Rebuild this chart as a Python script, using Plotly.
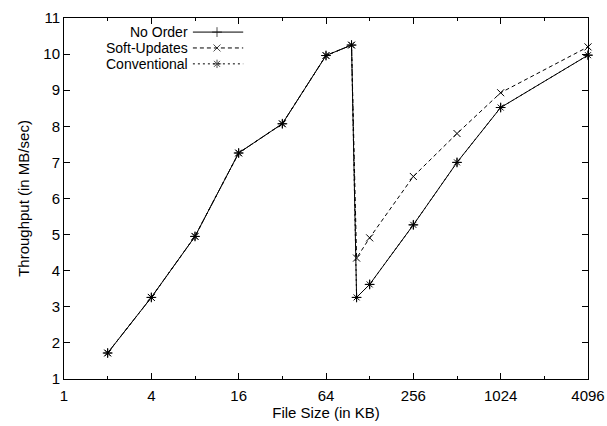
import math
import plotly.graph_objects as go

# ---- data ----
file_sizes = [2, 4, 8, 16, 32, 64, 96, 104, 128, 256, 512, 1024, 4096]
no_order = [1.72, 3.26, 4.95, 7.26, 8.07, 9.96, 10.25, 3.26, 3.62, 5.27, 7.00, 8.52, 9.97]
soft_updates = [1.72, 3.26, 4.95, 7.26, 8.07, 9.96, 10.25, 4.35, 4.91, 6.61, 7.80, 8.93, 10.20]
conventional = [1.72, 3.26, 4.95, 7.26, 8.07, 9.96, 10.25, 3.26, 3.62, 5.27, 7.00, 8.52, 9.97]

x_major = [1, 4, 16, 64, 256, 1024, 4096]
x_major_labels = ["1", "4", "16", "64", "256", "1024", "4096"]
x_minor = [2, 8, 32, 128, 512, 2048]
y_ticks = list(range(1, 12))

series_names = ["No Order", "Soft-Updates", "Conventional"]
FONT = "Liberation Sans, Arial, Helvetica, sans-serif"
FS = 15
LEG_FS = 14

styles = {
    "No Order": dict(dash="solid", symbol="cross-thin"),
    "Soft-Updates": dict(dash="4px,3px", symbol="x-thin"),
    "Conventional": dict(dash="2px,3px", symbol="asterisk"),
}
values = {"No Order": no_order, "Soft-Updates": soft_updates, "Conventional": conventional}

fig = go.Figure()
for name in series_names:
    st = styles[name]
    fig.add_trace(go.Scatter(
        x=file_sizes, y=values[name], mode="lines+markers", name=name,
        line=dict(color="black", width=1, dash=st["dash"]),
        marker=dict(symbol=st["symbol"], size=7, color="black",
                    line=dict(color="black", width=1)),
        showlegend=False, cliponaxis=False,
    ))

# ---- gnuplot-style legend (text right-aligned, sample on the right) ----
leg_y = [0.961, 0.917, 0.873]
text_x = 0.239
line_x0, line_mid, line_x1 = 0.246, 0.292, 0.342
for name, yy in zip(series_names, leg_y):
    st = styles[name]
    fig.add_annotation(x=text_x, y=yy, xref="paper", yref="paper", text=name,
                       showarrow=False, xanchor="right", yanchor="middle",
                       borderpad=0,
                       font=dict(family=FONT, size=LEG_FS, color="black"))
    fig.add_trace(go.Scatter(
        x=[line_x0, line_mid, line_x1], y=[yy, yy, yy],
        xaxis="x2", yaxis="y2", mode="lines+markers",
        line=dict(color="black", width=1, dash=st["dash"]),
        marker=dict(symbol=st["symbol"], size=[0, 7, 0], color="black",
                    line=dict(color="black", width=1)),
        showlegend=False, hoverinfo="skip", cliponaxis=False,
    ))

axis_common = dict(
    showline=True, linecolor="black", linewidth=1, mirror="ticks",
    ticks="inside", ticklen=6, tickcolor="black", tickwidth=1,
    showgrid=False, zeroline=False, automargin=False,
    tickfont=dict(family=FONT, size=FS, color="black"),
)

fig.update_layout(
    width=607, height=426,
    margin=dict(l=64, r=19, t=18, b=47),
    paper_bgcolor="white", plot_bgcolor="white",
    font=dict(family=FONT, size=FS, color="black"),
    xaxis=dict(
        type="log", range=[0, math.log10(4096)],
        tickmode="array", tickvals=x_major, ticktext=x_major_labels,
        minor=dict(tickmode="array", tickvals=x_minor, ticks="inside",
                   ticklen=3, tickcolor="black", showgrid=False),
        ticklabelstandoff=3,
        title=dict(text="File Size (in KB)", font=dict(family=FONT, size=FS), standoff=4),
        **axis_common,
    ),
    yaxis=dict(
        range=[1, 11], tickmode="array", tickvals=y_ticks,
        title=dict(text="Throughput (in MB/sec)", font=dict(family=FONT, size=FS), standoff=10),
        **axis_common,
    ),
    xaxis2=dict(overlaying="x", range=[0, 1], visible=False),
    yaxis2=dict(overlaying="y", range=[0, 1], visible=False),
)

fig.write_html("out.html", config={"displayModeBar": False},
               post_script="document.body.style.margin='0';document.body.style.overflow='hidden';")
